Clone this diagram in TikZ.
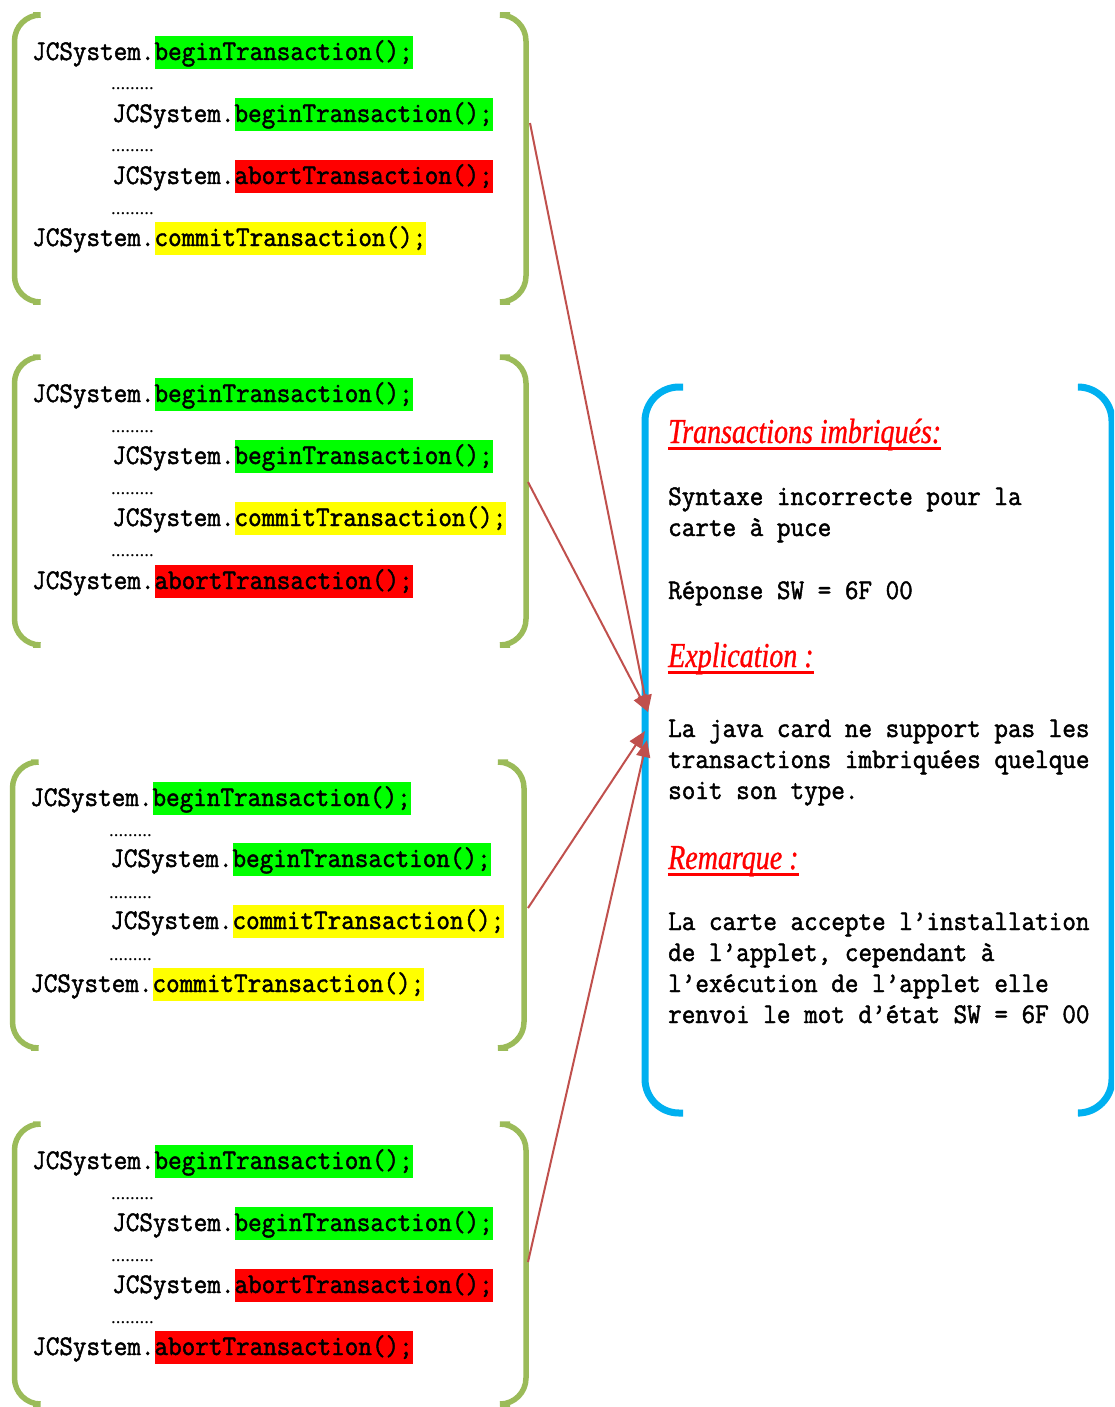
\documentclass[tikz,border=0pt]{standalone}
\usepackage{fontspec}
\usetikzlibrary{arrows.meta}
\newfontfamily\codefont[FakeStretch=0.926,FakeBold=1.6]{Latin Modern Mono}
\newfontfamily\headfont[FakeStretch=0.8,FakeBold=0.8]{Liberation Serif}
\newfontfamily\dotfont{Liberation Serif}
\definecolor{hlgreen}{HTML}{00FF00}
\definecolor{hlyellow}{HTML}{FFFF00}
\definecolor{hlred}{HTML}{FF0000}
\definecolor{bracketgreen}{HTML}{9BBB59}
\definecolor{bracketblue}{HTML}{00B0F0}
\definecolor{arrowred}{HTML}{C0504D}
% highlighted call: coloured band the height of a code line
\newcommand\hlt[2]{{\setlength{\fboxsep}{0pt}\colorbox{#1}{\rule[-9pt]{0pt}{33pt}#2}}}
\begin{document}
\begin{tikzpicture}[x=1pt,y=-1pt,
  code/.style={anchor=base west,inner sep=0pt,font=\codefont\fontsize{28.5}{31}\selectfont},
  dots/.style={anchor=base west,inner sep=0pt,font=\dotfont\fontsize{19}{20}\selectfont},
  heading/.style={anchor=base west,inner sep=0pt,text=hlred,font=\headfont\itshape\fontsize{35}{38}\selectfont},
  greenbracket/.style={draw=bracketgreen,line width=5.5pt,rounded corners=26pt},
  bluebracket/.style={draw=bracketblue,line width=7pt,rounded corners=34pt},
  link/.style={draw=arrowred,line width=2pt,-{Triangle[length=17pt,width=14pt]}},
  uline/.style={draw=hlred,line width=3pt}]
\useasboundingbox (0,0) rectangle (1114,1407);
\clip (0,0) rectangle (1114,1407);

% ---- first block: begin / begin / abort / commit
\draw[greenbracket] (33,15) -- (14.5,15) -- (14.5,302) -- (33,302);
\draw[greenbracket] (510,15) -- (526,15) -- (526,302) -- (510,302);
\node[code] (a1) at (32,60) {JCSystem.\hlt{hlgreen}{beginTransaction();}};
\node[dots] (ad1) at (111,90) {.........};
\node[code] (a2) at (112,122) {JCSystem.\hlt{hlgreen}{beginTransaction();}};
\node[dots] (ad2) at (111,152) {.........};
\node[code] (a3) at (112,184) {JCSystem.\hlt{hlred}{abortTransaction();}};
\node[dots] (ad3) at (111,214) {.........};
\node[code] (a4) at (32,246) {JCSystem.\hlt{hlyellow}{commitTransaction();}};
\coordinate (aout) at (530,123);

% ---- second block: begin / begin / commit / abort
\draw[greenbracket] (33,357) -- (14.5,357) -- (14.5,645) -- (33,645);
\draw[greenbracket] (510,357) -- (526,357) -- (526,645) -- (510,645);
\node[code] (b1) at (32,402) {JCSystem.\hlt{hlgreen}{beginTransaction();}};
\node[dots] (bd1) at (111,432) {.........};
\node[code] (b2) at (112,464) {JCSystem.\hlt{hlgreen}{beginTransaction();}};
\node[dots] (bd2) at (111,494) {.........};
\node[code] (b3) at (112,526) {JCSystem.\hlt{hlyellow}{commitTransaction();}};
\node[dots] (bd3) at (111,556) {.........};
\node[code] (b4) at (32,589) {JCSystem.\hlt{hlred}{abortTransaction();}};
\coordinate (bout) at (528,482);

% ---- third block: begin / begin / commit / commit
\draw[greenbracket] (31,762) -- (12.5,762) -- (12.5,1048) -- (31,1048);
\draw[greenbracket] (508,762) -- (524,762) -- (524,1048) -- (508,1048);
\node[code] (c1) at (30,806) {JCSystem.\hlt{hlgreen}{beginTransaction();}};
\node[dots] (cd1) at (109,836) {.........};
\node[code] (c2) at (110,867) {JCSystem.\hlt{hlgreen}{beginTransaction();}};
\node[dots] (cd2) at (109,898) {.........};
\node[code] (c3) at (110,929) {JCSystem.\hlt{hlyellow}{commitTransaction();}};
\node[dots] (cd3) at (109,960) {.........};
\node[code] (c4) at (30,992) {JCSystem.\hlt{hlyellow}{commitTransaction();}};
\coordinate (cout) at (528,908);

% ---- fourth block: begin / begin / abort / abort
\draw[greenbracket] (33,1124) -- (14.5,1124) -- (14.5,1404) -- (33,1404);
\draw[greenbracket] (510,1124) -- (526,1124) -- (526,1404) -- (510,1404);
\node[code] (d1) at (32,1169) {JCSystem.\hlt{hlgreen}{beginTransaction();}};
\node[dots] (dd1) at (111,1199) {.........};
\node[code] (d2) at (112,1231) {JCSystem.\hlt{hlgreen}{beginTransaction();}};
\node[dots] (dd2) at (111,1261) {.........};
\node[code] (d3) at (112,1293) {JCSystem.\hlt{hlred}{abortTransaction();}};
\node[dots] (dd3) at (111,1323) {.........};
\node[code] (d4) at (32,1355) {JCSystem.\hlt{hlred}{abortTransaction();}};
\coordinate (dout) at (528,1262);

% ---- explanation panel
\draw[bluebracket] (683,387) -- (645,387) -- (645,1113) -- (683,1113);
\draw[bluebracket] (1080,387) -- (1112,387) -- (1112,1113) -- (1080,1113);
\coordinate (in1) at (648,712);
\coordinate (in2) at (648,712);
\coordinate (in3) at (645,731);
\coordinate (in4) at (647,740);

\node[heading] (h1) at (668,443) {Transactions imbriqués:};
\draw[uline] ([yshift=-5pt]h1.base west) -- ([yshift=-5pt]h1.base east);
\node[code] (p1) at (668,505) {Syntaxe incorrecte pour la};
\node[code] (p2) at (668,536) {carte à puce};
\node[code] (p3) at (668,599) {Réponse SW = 6F 00};

\node[heading] (h2) at (668,667) {Explication :};
\draw[uline] ([yshift=-5pt]h2.base west) -- ([yshift=-5pt]h2.base east);
\node[code] (q1) at (668,737) {La java card ne support pas les};
\node[code] (q2) at (668,768) {transactions imbriquées quelque};
\node[code] (q3) at (668,799) {soit son type.};

\node[heading] (h3) at (668,869) {Remarque :};
\draw[uline] ([yshift=-5pt]h3.base west) -- ([yshift=-5pt]h3.base east);
\node[code] (r1) at (668,930) {La carte accepte l’installation};
\node[code] (r2) at (668,961) {de l’applet, cependant à};
\node[code] (r3) at (668,992) {l’exécution de l’applet elle};
\node[code] (r4) at (668,1023) {renvoi le mot d’état SW = 6F 00};

% ---- connectors from each block to the panel
\draw[link] (aout) -- (in1);
\draw[link] (bout) -- (in2);
\draw[link] (cout) -- (in3);
\draw[link] (dout) -- (in4);
\end{tikzpicture}
\end{document}
